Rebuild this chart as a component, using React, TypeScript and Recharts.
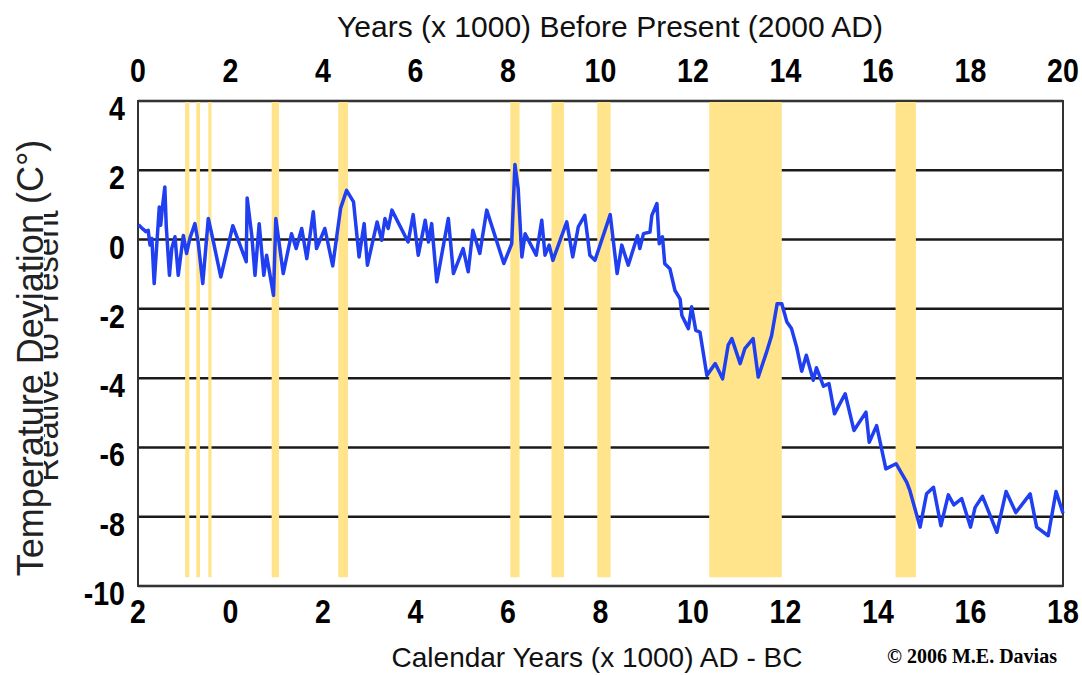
import React from "react";
import {
  CartesianGrid,
  Line,
  LineChart,
  ReferenceArea,
  XAxis,
  YAxis,
} from "recharts";

// thousands of years before present (2000 AD)
const bpYears = [
  0.01, 0.11, 0.17, 0.22, 0.26, 0.3, 0.35, 0.46, 0.49, 0.53,
  0.58, 0.61, 0.68, 0.73, 0.8, 0.87, 0.98, 1.05, 1.12, 1.23,
  1.3, 1.4, 1.52, 1.63, 1.79, 2.05, 2.34, 2.36, 2.46, 2.53,
  2.62, 2.72, 2.78, 2.93, 2.98, 3.14, 3.32, 3.42, 3.54, 3.65,
  3.79, 3.86, 4.04, 4.21, 4.38, 4.51, 4.66, 4.78, 4.89, 4.96,
  5.17, 5.27, 5.34, 5.41, 5.49, 5.84, 5.95, 6.06, 6.21, 6.28,
  6.35, 6.46, 6.71, 6.82, 7.03, 7.14, 7.24, 7.39, 7.54, 7.91,
  8.08, 8.15, 8.22, 8.3, 8.37, 8.61, 8.73, 8.8, 8.89, 8.97,
  9.27, 9.4, 9.52, 9.66, 9.77, 9.88, 10.21, 10.36, 10.46, 10.6,
  10.8, 10.85, 10.93, 11.07, 11.11, 11.22, 11.27, 11.34, 11.39, 11.5,
  11.61, 11.72, 11.76, 11.9, 11.97, 12.06, 12.15, 12.3, 12.48, 12.64,
  12.76, 12.84, 13.02, 13.12, 13.3, 13.41, 13.59, 13.7, 13.82, 13.92,
  14.03, 14.13, 14.24, 14.35, 14.45, 14.6, 14.67, 14.82, 14.94, 15.06,
  15.29, 15.48, 15.74, 15.81, 15.97, 16.17, 16.39, 16.62, 16.69, 16.91,
  17.05, 17.2, 17.36, 17.52, 17.64, 17.81, 18.0, 18.1, 18.26, 18.57,
  18.77, 18.98, 19.29, 19.43, 19.68, 19.85, 20.0,
];

// temperature deviation (C) relative to present
const tempDev = [
  0.43, 0.3, 0.23, 0.27, -0.16, 0.03, -1.27, 0.94, 0.41, 0.95,
  1.52, 0.41, -1.03, -0.26, 0.08, -1.03, 0.12, -0.4, 0.03, 0.46,
  -0.07, -1.27, 0.61, -0.06, -1.08, 0.4, -0.64, 1.2, 0.12, -1.03,
  0.46, -1.03, -0.45, -1.61, 0.61, -0.98, 0.17, -0.26, 0.32, -0.55,
  0.8, -0.26, 0.32, -0.76, 0.9, 1.42, 1.09, -0.5, 0.46, -0.74,
  0.51, -0.02, 0.61, 0.32, 0.85, -0.07, 0.72, -0.45, 0.56, -0.07,
  0.46, -1.22, 0.61, -0.98, -0.26, -0.93, 0.27, -0.4, 0.85, -0.69,
  -0.12, 2.17, 1.47, -0.5, 0.17, -0.45, 0.56, -0.45, -0.16, -0.6,
  0.51, -0.5, 0.37, 0.7, -0.45, -0.6, 0.72, -0.98, -0.16, -0.74,
  0.11, -0.26, 0.17, 0.22, 0.7, 1.04, -0.12, 0.08, -0.7, -0.84,
  -1.47, -1.71, -2.19, -2.57, -1.94, -2.62, -2.67, -3.92, -3.58, -4.02,
  -3.05, -2.86, -3.58, -3.15, -2.86, -3.97, -3.25, -2.77, -1.85, -1.85,
  -2.38, -2.57, -3.1, -3.8, -3.34, -4.06, -3.7, -4.23, -4.16, -5.03,
  -4.45, -5.51, -4.98, -5.85, -5.37, -6.62, -6.47, -7.0, -7.25, -8.3,
  -7.34, -7.15, -8.26, -7.37, -7.66, -7.48, -8.3, -7.73, -7.41, -8.45,
  -7.27, -7.88, -7.34, -8.3, -8.55, -7.27, -7.9,
];

// shaded (yellow) periods, in kyr BP
const bandStart = [1.02, 1.26, 1.52, 2.89, 4.33, 8.05, 8.94, 9.93, 12.35, 16.38];
const bandEnd = [1.11, 1.34, 1.59, 3.05, 4.54, 8.25, 9.21, 10.22, 13.92, 16.82];

const xTicks = [0, 2, 4, 6, 8, 10, 12, 14, 16, 18, 20];
const yTicks = [-10, -8, -6, -4, -2, 0, 2, 4];

const data = bpYears.map((bp, i) => ({ bp, temp: tempDev[i] }));

const SANS = "'Liberation Sans', Arial, Helvetica, sans-serif";
const BAND = "#ffe48c";
const BLUE = "#1f3ff0";

function NarrowTick(props: any) {
  const { x, y, payload, dy, anchor, fmt } = props;
  const label = fmt ? fmt(payload.value) : payload.value;
  return (
    <g transform={`translate(${x},${y}) scale(0.84,1)`}>
      <text x={0} y={dy} textAnchor={anchor} fontFamily={SANS} fontWeight="bold" fontSize={34} fill="#000">
        {label}
      </text>
    </g>
  );
}

export default function App() {
  return (
    <div style={{ position: "absolute", left: 0, top: 0, width: 1082, height: 675, background: "#fff" }}>
      <LineChart width={1082} height={675} data={data} margin={{ top: 0, right: 19, bottom: 0, left: 0 }}>
        {bandStart.map((s, i) => (
          <ReferenceArea
            key={s}
            x1={s}
            x2={bandEnd[i]}
            y1={-9.75}
            y2={4}
            fill={BAND}
            fillOpacity={1}
            stroke="none"
            ifOverflow="visible"
          />
        ))}
        <CartesianGrid vertical={false} stroke="#1a1a1a" strokeWidth={2.5} />
        <ReferenceArea x1={0} x2={20} y1={-10} y2={4} fill="none" stroke="#333" strokeWidth={2} ifOverflow="visible" />
        <XAxis
          dataKey="bp"
          type="number"
          domain={[0, 20]}
          ticks={xTicks}
          height={89}
          axisLine={false}
          tickLine={false}
          tickSize={0}
          tickMargin={0}
          interval={0}
          tick={<NarrowTick dy={37} anchor="middle" fmt={(v: number) => Math.abs(v - 2)} />}
        />
        <XAxis
          xAxisId="top"
          orientation="top"
          dataKey="bp"
          type="number"
          domain={[0, 20]}
          ticks={xTicks}
          height={101}
          axisLine={false}
          tickLine={false}
          tickSize={0}
          tickMargin={0}
          interval={0}
          tick={<NarrowTick dy={-19} anchor="middle" />}
        />
        <YAxis
          type="number"
          domain={[-10, 4]}
          ticks={yTicks}
          width={138}
          axisLine={false}
          tickLine={false}
          tickSize={0}
          tickMargin={0}
          interval={0}
          tick={(p: any) => <NarrowTick {...p} x={p.x - 13} dy={19} anchor="end" />}
        />
        <Line
          type="linear"
          dataKey="temp"
          stroke={BLUE}
          strokeWidth={3.5}
          strokeLinejoin="round"
          dot={false}
          activeDot={false}
          isAnimationActive={false}
        />
      </LineChart>
      <svg
        width={1082}
        height={675}
        style={{ position: "absolute", left: 0, top: 0, pointerEvents: "none" }}
      >
        <defs>
          <clipPath id="ylab2">
            <rect x={44} y={0} width={60} height={675} />
          </clipPath>
        </defs>
        <text x={610} y={37} textAnchor="middle" fontFamily={SANS} fontSize={30} fill="#111">
          Years (x 1000) Before Present (2000 AD)
        </text>
        <text x={597} y={667} textAnchor="middle" fontFamily={SANS} fontSize={28} fill="#111">
          Calendar Years (x 1000) AD - BC
        </text>
        <text x={887} y={663} fontFamily="'Liberation Serif', 'Times New Roman', serif" fontWeight="bold" fontSize={20} fill="#000">
          © 2006 M.E. Davias
        </text>
        <g clipPath="url(#ylab2)">
          <text transform="translate(58,346) rotate(-90)" textAnchor="middle" fontFamily={SANS} fontSize={33} fill="#222">
            Reative to Present
          </text>
        </g>
        <text transform="translate(43,358) rotate(-90)" textAnchor="middle" fontFamily={SANS} fontSize={36} fill="#222">
          Temperature Deviation (C°)
        </text>
      </svg>
    </div>
  );
}
